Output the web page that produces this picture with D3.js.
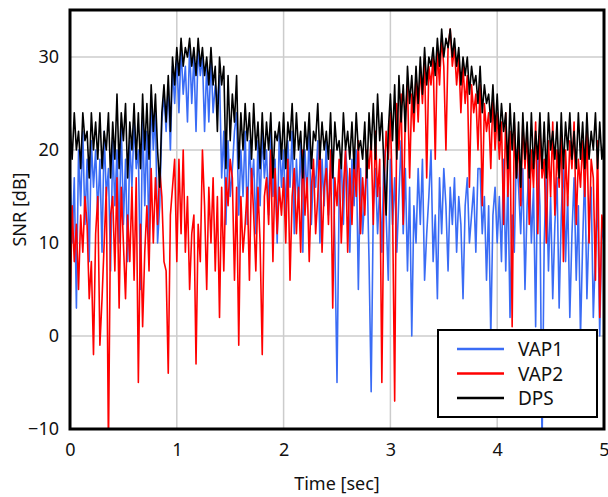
<!DOCTYPE html>
<html>
<head>
<meta charset="utf-8">
<script src="https://cdn.jsdelivr.net/npm/d3@7"></script>
<style>
  body { margin: 0; background: #fff; }
  text { font-family: "Noto Sans", "Open Sans", sans-serif; fill: #111; }
</style>
</head>
<body>
<div id="chart"></div>
<script>
// time step of the samples, seconds
const dt = 0.02;

// SNR [dB], one value every 0.02 s from 0 to 5 s
const vap1 = [
  18, 10, 17, 3, 20, 14, 22, 12, 19, 8,
  21, 16, 20, 13, 19, 9, 22, 15, 18, 7,
  21, 14, 20, 10, 23, 12, 19, 8, 21, 16,
  23, 18, 20, 5, 24, 14, 22, 10, 26, 20,
  24, 10, 14, 23, 26, 22, 27, 20, 29, 25,
  30, 24, 31, 26, 29, 23, 31, 25, 30, 22,
  31, 28, 30, 22, 29, 23, 30, 24, 27, 25,
  28, 17, 22, 12, 21, 15, 18, 22, 24, 13,
  20, 15, 22, 12, 21, 16, 19, 11, 21, 14,
  22, 17, 20, 13, 23, 15, 19, 10, 22, 16,
  20, 13, 21, 16, 22, 11, 19, 14, 21, 9,
  20, 15, 22, 12, 18, 16, 21, 10, 19, 14,
  21, 13, 17, 20, 10, -5, 15, 19, 12, 20,
  17, 9, 19, 14, 20, 5, 18, 11, 15, 19,
  8, -6, 14, 18, 11, 16, 9, 20, 13, 6,
  19, 12, 17, 9, 15, 21, 11, 18, 7, 16,
  0, 14, 10, 18, 12, 19, 6, 11, 15, 20,
  8, 13, 4, 17, 11, 18, 14, 7, 16, 12,
  17, 9, 15, 12, 4, 14, 17, 10, 13, 16,
  9, 18, 18, 11, 15, 6, 14, 0, 13, 16,
  10, 15, 8, 19, 7, 17, 2, 13, 9, 20,
  16, 11, 18, 5, 14, 19, 10, 16, 1, 20,
  14, -12, 10, 18, 7, 15, 4, 12, 17, 3,
  13, 19, 8, 15, 2, 11, 17, 6, 14, 0,
  10, 18, 4, 12, 16, 2, 9, 15, 0, 12,
  10
];

const vap2 = [
  2, 14, 8, 12, 5, 13, 9, 15, 12, 4,
  8, -2, 11, 15, -1, 4, 10, 16, -12, 13,
  15, 7, 17, 3, 16, 10, 4, 13, 8, 16,
  6, 17, -5, 12, 1, 9, 14, 7, 18, 10,
  17, 12, 18, 15, 8, 7, -4, 13, 16, 19,
  8, 19, 11, 20, 9, 15, 5, 11, 13, -3,
  12, 8, 20, 14, 5, 16, 10, 17, 7, 15,
  2, 16, 7, 17, 14, 19, 17, 6, 16, -1,
  15, 9, 12, 16, 6, 18, 13, 7, 16, 10,
  -2, 15, 17, 12, 20, 8, 18, 11, 16, 13,
  17, 10, 19, 6, 15, 18, 11, 16, 9, 20,
  13, 17, 8, 16, 19, 11, 15, 21, 9, 16,
  18, 12, 20, 3, 17, 14, 19, 10, 16, 20,
  9, 18, 12, 19, 15, 21, 11, 17, 13, 20,
  18, 21, 12, 22, 15, 19, -5, 16, 22, 19,
  24, 14, -7, 25, 20, 26, 12, 24, 27, 17,
  26, 22, 28, 23, 29, 25, 30, 17, 29, 27,
  30, 19, 31, 27, 32, 29, 20, 31, 33, 29,
  31, 27, 30, 24, 29, 25, 28, 16, 27, 24,
  26, 20, 27, 14, 25, 22, 24, 18, 26, 20,
  24, 19, 23, 12, 24, 15, 22, 1, 23, 17,
  21, 14, 23, 18, 22, 12, 20, 16, 23, 11,
  22, 17, 19, 10, 21, 15, 23, 13, 20, 16,
  22, 8, 20, 14, 21, 18, 23, 12, 19, 16,
  21, 15, 22, 10, 19, 17, 6, 21, 2, 13,
  11
];

const dps = [
  23, 19, 24, 20, 22, 18, 24, 21, 22, 17,
  24, 20, 23, 19, 24, 18, 22, 20, 24, 17,
  23, 19, 26, 18, 24, 21, 25, 17, 23, 20,
  25, 19, 24, 18, 26, 20, 25, 19, 27, 22,
  26, 20, 16, 24, 27, 23, 28, 22, 30, 27,
  31, 28, 32, 29, 31, 30, 32, 29, 31, 28,
  32, 29, 31, 28, 30, 27, 31, 27, 29, 22,
  30, 27, 29, 18, 28, 21, 26, 23, 28, 18,
  24, 20, 25, 21, 24, 19, 25, 20, 23, 18,
  24, 19, 23, 20, 24, 17, 22, 21, 23, 19,
  24, 18, 23, 21, 25, 19, 24, 20, 22, 17,
  23, 20, 24, 18, 22, 21, 25, 19, 23, 20,
  22, 19, 24, 17, 23, 20, 21, 18, 24, 20,
  22, 19, 23, 18, 24, 20, 21, 19, 23, 17,
  24, 20, 25, 19, 26, 21, 24, 18, 13, 22,
  26, 21, 27, 19, 28, 23, 27, 22, 29, 25,
  28, 24, 29, 25, 30, 26, 31, 27, 30, 29,
  31, 28, 32, 29, 33, 30, 32, 31, 33, 30,
  32, 29, 31, 27, 30, 28, 30, 26, 29, 27,
  28, 25, 29, 24, 27, 25, 26, 23, 27, 22,
  26, 21, 25, 22, 24, 18, 25, 20, 24, 17,
  23, 16, 24, 19, 23, 17, 24, 18, 22, 19,
  24, 18, 23, 17, 24, 20, 22, 19, 23, 17,
  24, 18, 23, 20, 24, 19, 22, 18, 24, 19,
  23, 18, 24, 19, 22, 20, 24, 18, 23, 19,
  21
];

const xTicks = [0, 1, 2, 3, 4, 5];
const yTicks = [-10, 0, 10, 20, 30];
const seriesNames = ["VAP1", "VAP2", "DPS"];
const seriesColors = ["#3a6cf5", "#ff0000", "#000000"];

const W = 608, H = 497;
const margin = { top: 10, right: 4, bottom: 68, left: 70 };
const width = W - margin.left - margin.right;
const height = H - margin.top - margin.bottom;

const svg = d3.select("#chart").append("svg")
  .attr("width", W)
  .attr("height", H);

const g = svg.append("g")
  .attr("transform", `translate(${margin.left},${margin.top})`);

const x = d3.scaleLinear().domain([0, 5]).range([0, width]);
const y = d3.scaleLinear().domain([-10, 35.05]).range([height, 0]);

// grid
g.append("g").selectAll("line.vg")
  .data(xTicks.slice(1, -1))
  .join("line")
  .attr("x1", d => x(d)).attr("x2", d => x(d))
  .attr("y1", 0).attr("y2", height)
  .attr("stroke", "#cccccc").attr("stroke-width", 1.5);

g.append("g").selectAll("line.hg")
  .data(yTicks.slice(1))
  .join("line")
  .attr("x1", 0).attr("x2", width)
  .attr("y1", d => y(d)).attr("y2", d => y(d))
  .attr("stroke", "#cccccc").attr("stroke-width", 1.5);

// clip for the lines
g.append("clipPath").attr("id", "clip")
  .append("rect").attr("width", width).attr("height", height);

const line = d3.line()
  .x((d, i) => x(i * dt))
  .y(d => y(d));

const allSeries = [vap1, vap2, dps];
g.append("g").attr("clip-path", "url(#clip)")
  .selectAll("path")
  .data(allSeries)
  .join("path")
  .attr("d", d => line(d))
  .attr("fill", "none")
  .attr("stroke", (d, i) => seriesColors[i])
  .attr("stroke-width", 1.6)
  .attr("stroke-linejoin", "round");

// frame
g.append("rect")
  .attr("width", width).attr("height", height)
  .attr("fill", "none").attr("stroke", "#000").attr("stroke-width", 3);

// axes (labels only, frame drawn above)
const xAxis = g.append("g")
  .attr("transform", `translate(0,${height})`)
  .call(d3.axisBottom(x).tickValues(xTicks).tickFormat(d3.format("d"))
    .tickSize(0).tickPadding(14));
const yAxis = g.append("g")
  .call(d3.axisLeft(y).tickValues(yTicks).tickFormat(d3.format("d"))
    .tickSize(0).tickPadding(11));
[xAxis, yAxis].forEach(a => {
  a.select(".domain").remove();
  a.selectAll("text").attr("font-size", 18)
    .attr("font-family", "'Noto Sans', 'Open Sans', sans-serif")
    .attr("fill", "#111");
});

svg.append("text")
  .attr("x", margin.left + width / 2)
  .attr("y", 490)
  .attr("text-anchor", "middle")
  .attr("font-size", 18)
  .text("Time [sec]");

svg.append("text")
  .attr("transform", `translate(26,${margin.top + height / 2 - 10}) rotate(-90)`)
  .attr("text-anchor", "middle")
  .attr("font-size", 18)
  .text("SNR [dB]");

// legend
const legend = svg.append("g").attr("transform", "translate(438,330)");
legend.append("rect")
  .attr("width", 159).attr("height", 87)
  .attr("fill", "#fff").attr("stroke", "#000").attr("stroke-width", 2);

const item = legend.selectAll("g.item")
  .data(seriesNames)
  .join("g")
  .attr("class", "item")
  .attr("transform", (d, i) => `translate(0,${19 + i * 24.5})`);

item.append("line")
  .attr("x1", 19).attr("x2", 66)
  .attr("stroke", (d, i) => seriesColors[i])
  .attr("stroke-width", 2.5);

item.append("text")
  .attr("x", 80).attr("y", 7)
  .attr("font-size", 19)
  .text(d => d);
</script>
</body>
</html>
